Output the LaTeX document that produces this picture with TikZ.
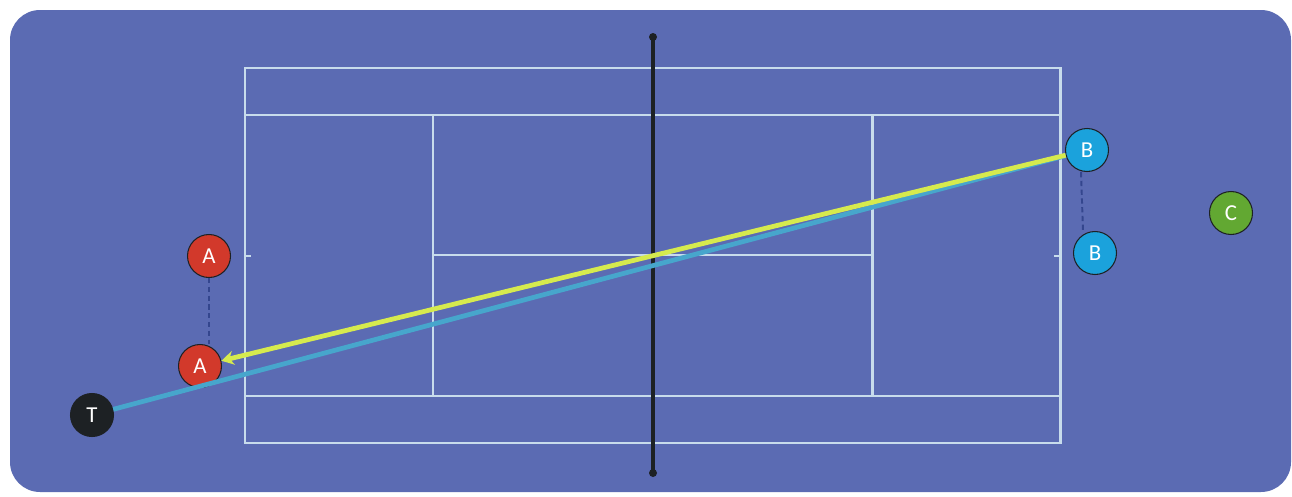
\documentclass[tikz,border=0pt]{standalone}
\usepackage{fontspec}
\setsansfont{Carlito}
\usepackage{tikz}
\usetikzlibrary{arrows.meta, positioning}
\definecolor{pista}{HTML}{5B6BB3}
\definecolor{linea}{HTML}{C8DCEC}
\definecolor{rojo}{HTML}{D2392B}
\definecolor{celeste}{HTML}{1BA2DC}
\definecolor{verde}{HTML}{62A832}
\definecolor{negro}{HTML}{1D2124}
\definecolor{tiro}{HTML}{47A6CC}
\definecolor{bote}{HTML}{D6EA4E}
\definecolor{paso}{HTML}{34468E}

\begin{document}
\begin{tikzpicture}[
  x=0.02cm, y=-0.02cm,
  jugador/.style={
    circle, draw=negro, line width=0.6pt,
    text=white, font=\sffamily\fontsize{13}{15}\selectfont,
    minimum size=0.86cm, inner sep=0pt
  },
  cancha/.style={draw=linea, line width=1.7pt},
  mov/.style={draw=paso, line width=1.1pt, dash pattern=on 3pt off 2pt},
  saque/.style={color=tiro, line width=2.7pt},
  resto/.style={-{Stealth[length=7pt, width=8pt]}, color=bote, line width=2.7pt}
]
  \useasboundingbox (0,0) rectangle (1292,497);
  \fill[pista, rounded corners=0.6cm] (10,10) rectangle (1291,492);

  % pista
  \draw[cancha] (245,68) rectangle (1060,443);
  \draw[cancha] (245,115) -- (1060,115);
  \draw[cancha] (245,396) -- (1060,396);
  \draw[cancha] (433,115) -- (433,396);
  \draw[cancha] (872,115) -- (872,396);
  \draw[cancha] (433,255) -- (872,255);
  \draw[cancha] (245,256) -- (251,256);
  \draw[cancha] (1054,256) -- (1060,256);

  % red
  \coordinate (red1) at (653,37);
  \coordinate (red2) at (653,473);
  \draw[negro, line width=2.6pt] (red1) -- (red2);
  \fill[negro] (red1) circle (4);
  \fill[negro] (red2) circle (4);

  % jugadores
  \node[jugador, fill=rojo]    (a1) at (209,256) {A};
  \node[jugador, fill=rojo]    (a2) at (200,366) {A};
  \node[jugador, fill=celeste] (b1) at (1087,150) {B};
  \node[jugador, fill=celeste] (b2) at (1095,253) {B};
  \node[jugador, fill=verde]   (c)  at (1231,213) {C};
  \node[jugador, fill=negro]   (t)  at (92,415) {T};

  \draw[mov] (a1) -- (a1 |- a2.north);
  \coordinate (b1p) at (1081,172);
  \coordinate (b2p) at (1083,231);
  \draw[mov] (b1p) -- (b2p);

  \draw[saque] (t) -- (b1);
  \draw[resto] (b1) -- (a2);
\end{tikzpicture}
\end{document}
